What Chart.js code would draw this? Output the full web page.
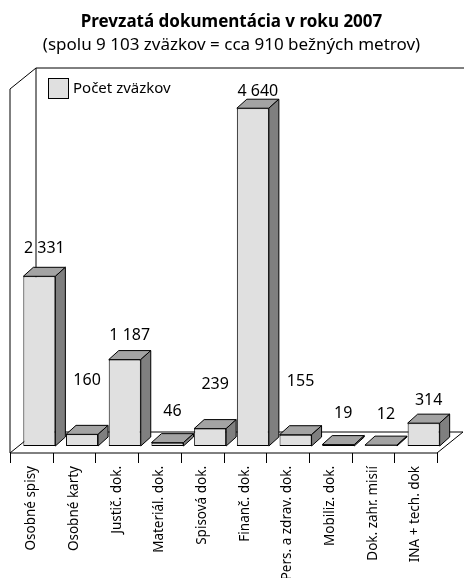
<!DOCTYPE html>
<html>
<head>
<meta charset="utf-8">
<script src="https://cdn.jsdelivr.net/npm/chart.js@4"></script>
<style>
  html, body { margin: 0; padding: 0; background: #fff; }
  #wrap { width: 464px; height: 578px; }
</style>
</head>
<body>
<div id="wrap"><canvas id="chart" width="464" height="578"></canvas></div>
<script>
'use strict';

const categories = ['Osobné spisy', 'Osobné karty', 'Justič. dok.', 'Materiál. dok.', 'Spisová dok.',
  'Finanč. dok.', 'Pers. a zdrav. dok.', 'Mobiliz. dok.', 'Dok. zahr. misií', 'INA + tech. dok'];
const volumes = [2331, 160, 1187, 46, 239, 4640, 155, 19, 12, 314];
const seriesName = 'Počet zväzkov';
const yMax = 5000;

// 3D look
const depth = { dx: 10, dy: 9 };        // depth of one bar
const front = { dx: -8, dy: 7 };        // front edge of the floor vs. chart area
const back = { dx: 18, dy: -14 };       // back wall vs. chart area
// how far each value label sits above its bar (labels were hand placed in the original)
const labelLift = [14, 40, 11, 18, 31, 3, 40, 18, 17, 9];

const fmt = v => String(v).replace(/\B(?=(\d{3})+(?!\d))/g, ' ');

const frame3d = {
  id: 'frame3d',
  beforeDatasetsDraw(chart) {
    const { ctx, chartArea: a } = chart;
    const fl = a.left + front.dx, fr = a.right + front.dx;
    const ft = a.top + front.dy, fb = a.bottom + front.dy;
    const bl = a.left + back.dx, br = a.right + back.dx;
    const bt = a.top + back.dy, bb = a.bottom + back.dy;
    ctx.save();
    ctx.strokeStyle = '#000';
    ctx.lineWidth = 1;
    ctx.beginPath();
    // left wall
    ctx.moveTo(fl, fb); ctx.lineTo(fl, ft); ctx.lineTo(bl, bt);
    // back wall
    ctx.moveTo(bl, bb); ctx.lineTo(bl, bt); ctx.lineTo(br + 2, bt);
    // floor
    ctx.moveTo(fl, fb); ctx.lineTo(fr, fb); ctx.lineTo(br, bb); ctx.lineTo(bl, bb); ctx.lineTo(fl, fb);
    // ticks
    const n = categories.length, step = (a.right - a.left) / n;
    for (let i = 0; i <= n; i++) {
      const x = Math.round(fl + i * step) + 0.5;
      ctx.moveTo(x, fb); ctx.lineTo(x, fb + 10);
    }
    ctx.stroke();
    ctx.restore();
  },
  afterDatasetsDraw(chart) {
    const { ctx } = chart;
    const meta = chart.getDatasetMeta(0);
    ctx.save();
    ctx.strokeStyle = '#000';
    ctx.lineWidth = 1;
    ctx.lineJoin = 'round';
    meta.data.forEach((bar, i) => {
      const p = bar.getProps(['x', 'y', 'base', 'width'], true);
      const l = p.x - p.width / 2, r = p.x + p.width / 2;
      const t = p.y, b = p.base;
      // top face
      ctx.beginPath();
      ctx.moveTo(l, t); ctx.lineTo(r, t); ctx.lineTo(r + depth.dx, t - depth.dy); ctx.lineTo(l + depth.dx, t - depth.dy);
      ctx.closePath();
      ctx.fillStyle = '#a3a3a3';
      ctx.fill(); ctx.stroke();
      // side face
      ctx.beginPath();
      ctx.moveTo(r, t); ctx.lineTo(r + depth.dx, t - depth.dy); ctx.lineTo(r + depth.dx, b - depth.dy); ctx.lineTo(r, b);
      ctx.closePath();
      ctx.fillStyle = '#7f7f7f';
      ctx.fill(); ctx.stroke();
      // value label
      ctx.fillStyle = '#000';
      ctx.font = '16px "Noto Sans", sans-serif';
      ctx.textAlign = 'center';
      ctx.textBaseline = 'alphabetic';
      ctx.fillText(fmt(volumes[i]), p.x + depth.dx / 2, t - depth.dy - labelLift[i]);
    });
    ctx.restore();
  },
  afterDraw(chart) {
    const { ctx, chartArea: a } = chart;
    const x = a.left + 30, y = a.top - 4;
    ctx.save();
    ctx.fillStyle = '#e0e0e0';
    ctx.strokeStyle = '#000';
    ctx.lineWidth = 1;
    ctx.fillRect(x + 0.5, y + 0.5, 20, 20);
    ctx.strokeRect(x + 0.5, y + 0.5, 20, 20);
    ctx.fillStyle = '#000';
    ctx.font = '15px "Noto Sans", sans-serif';
    ctx.textAlign = 'left';
    ctx.textBaseline = 'middle';
    ctx.fillText(seriesName, x + 25, y + 11);
    ctx.restore();
  }
};

Chart.defaults.font.family = '"Noto Sans", sans-serif';
Chart.defaults.color = '#000';

new Chart(document.getElementById('chart'), {
  type: 'bar',
  data: {
    labels: categories,
    datasets: [{
      label: seriesName,
      data: volumes,
      backgroundColor: '#e0e0e0',
      borderColor: '#000',
      borderWidth: 1,
      borderSkipped: false,
      categoryPercentage: 0.75,
      barPercentage: 1
    }]
  },
  options: {
    responsive: false,
    animation: false,
    layout: { padding: { left: 18, right: 19, top: 0, bottom: 0 } },
    plugins: {
      legend: { display: false },
      tooltip: { enabled: false },
      title: {
        display: true,
        text: 'Prevzatá dokumentácia v roku 2007',
        font: { size: 17, weight: 'bold' },
        color: '#000',
        padding: { top: 12, bottom: 2.4 }
      },
      subtitle: {
        display: true,
        text: '(spolu 9 103 zväzkov = cca 910 bežných metrov)',
        font: { size: 17 },
        color: '#000',
        padding: { top: 0, bottom: 26.8 }
      }
    },
    scales: {
      x: {
        grid: { display: false },
        border: { display: false },
        ticks: {
          color: '#000',
          font: { size: 13.5 },
          minRotation: 90,
          maxRotation: 90,
          autoSkip: false,
          padding: 12,
          labelOffset: -8
        },
        afterFit(scale) { scale.height = 132; }
      },
      y: {
        display: false,
        min: 0,
        max: yMax
      }
    }
  },
  plugins: [frame3d]
});
</script>
</body>
</html>
